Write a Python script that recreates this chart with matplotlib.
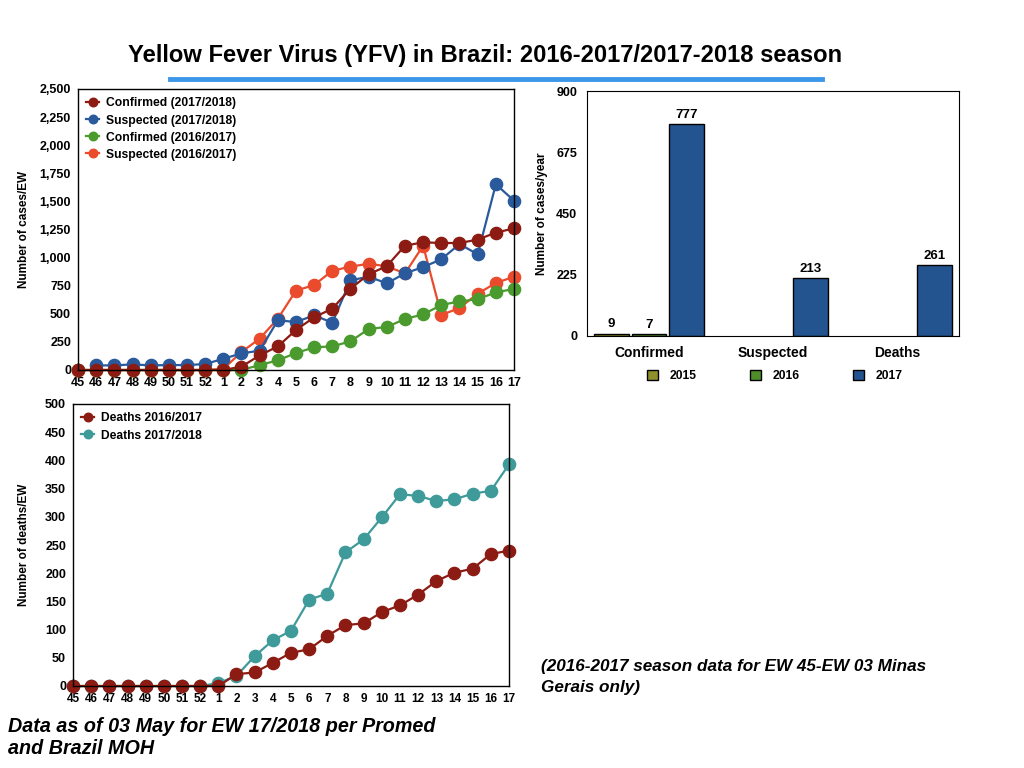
import numpy as np
import matplotlib
matplotlib.use("Agg")
import matplotlib.pyplot as plt
from matplotlib.ticker import FuncFormatter

plt.rcParams['font.family'] = ['Liberation Sans', 'DejaVu Sans']

ew_labels = ['45', '46', '47', '48', '49', '50', '51', '52',
             '1', '2', '3', '4', '5', '6', '7', '8', '9', '10',
             '11', '12', '13', '14', '15', '16', '17']
nan = np.nan

confirmed_1718 = [0, 0, 0, 0, 0, 0, 0, 0, 0, 30, 130, 210, 356, 469, 546,
                  724, 851, 925, 1106, 1136, 1130, 1130, 1160, 1222, 1260]
suspected_1718 = [nan, 41, 41, 50, 41, 44, 44, 53, 100, 148, 172, 442, 427, 486,
                  421, 798, 830, 771, 860, 916, 985, 1121, 1029, 1652, 1507]
confirmed_1617 = [0, 0, 0, 0, 0, 0, 0, 0, 0, 0, 44, 86, 151, 202, 210,
                  255, 365, 383, 454, 495, 578, 611, 629, 691, 721]
suspected_1617 = [0, 0, 0, 0, 0, 0, 0, 0, 10, 160, 279, 457, 706, 756, 884,
                  919, 946, 922, 860, 1106, 489, 552, 679, 774, 830]

deaths_1617 = [0, 0, 0, 0, 0, 0, 0, 0, 0, 21, 24, 41, 59, 65, 89,
               108, 111, 131, 143, 162, 186, 201, 208, 234, 240]
deaths_1718 = [0, 0, 0, 0, 0, 0, 0, 0, 5, 18, 53, 81, 98, 153, 164,
               237, 260, 299, 340, 337, 328, 331, 341, 346, 393]

bar_groups = ['Confirmed', 'Suspected', 'Deaths']
bar_years = ['2015', '2016', '2017']
bar_values = {
    '2015': [9, nan, nan],
    '2016': [7, nan, nan],
    '2017': [777, 213, 261],
}

c_darkred = '#8c1c13'
c_blue = '#2a5a9b'
c_green = '#4a9a2e'
c_orange = '#ea4b2c'
c_teal = '#3f9a9a'
bar_colors = {'2015': '#8f8f2b', '2016': '#4f8d2b', '2017': '#24548f'}

fig = plt.figure(figsize=(10.24, 7.68), dpi=100)

fig.text(0.4735, 0.928, 'Yellow Fever Virus (YFV) in Brazil: 2016-2017/2017-2018 season',
         ha='center', va='center', fontsize=17.1, fontweight='bold')
fig.add_artist(plt.Line2D([170 / 1024, 822 / 1024], [1 - 79 / 768, 1 - 79 / 768],
                          color='#3d97e8', lw=3.5))

x = np.arange(len(ew_labels))
mk = dict(marker='o', markersize=8.8, lw=1.6)
leg_kw = dict(loc='upper left', frameon=False, prop={'weight': 'bold', 'size': 8.7},
              handlelength=1.0, handletextpad=0.6, labelspacing=0.42,
              markerscale=0.7, borderaxespad=0.3)

# cases per EW
ax1 = fig.add_axes([78 / 1024, 1 - 370 / 768, 436 / 1024, 281 / 768])
ax1.plot(x, suspected_1617, color=c_orange, label='Suspected (2016/2017)', **mk)
ax1.plot(x, confirmed_1617, color=c_green, label='Confirmed (2016/2017)', **mk)
ax1.plot(x, suspected_1718, color=c_blue, label='Suspected (2017/2018)', **mk)
ax1.plot(x, confirmed_1718, color=c_darkred, label='Confirmed (2017/2018)', **mk)
ax1.set_xlim(0, len(x) - 1)
ax1.set_ylim(0, 2500)
ax1.set_yticks(np.arange(0, 2501, 250))
ax1.yaxis.set_major_formatter(FuncFormatter(lambda v, p: f'{int(v):,}'))
ax1.set_xticks(x)
ax1.set_xticklabels(ew_labels)
ax1.set_ylabel('Number of cases/EW', fontsize=8.5, fontweight='bold', labelpad=7)
h, l = ax1.get_legend_handles_labels()
order = [3, 2, 1, 0]
ax1.legend([h[i] for i in order], [l[i] for i in order], **leg_kw)

# deaths per EW
ax2 = fig.add_axes([73 / 1024, 1 - 686 / 768, 436 / 1024, 282 / 768])
ax2.plot(x, deaths_1718, color=c_teal, label='Deaths 2017/2018', **mk)
ax2.plot(x, deaths_1617, color=c_darkred, label='Deaths 2016/2017', **mk)
ax2.set_xlim(0, len(x) - 1)
ax2.set_ylim(0, 500)
ax2.set_yticks(np.arange(0, 501, 50))
ax2.set_xticks(x)
ax2.set_xticklabels(ew_labels)
ax2.set_ylabel('Number of deaths/EW', fontsize=8.5, fontweight='bold', labelpad=11)
h, l = ax2.get_legend_handles_labels()
ax2.legend(h[::-1], l[::-1], **leg_kw)

for ax in (ax1, ax2):
    ax.tick_params(length=0, labelsize=9, pad=5)
    for t in ax.get_xticklabels() + ax.get_yticklabels():
        t.set_fontweight('bold')
    for s in ax.spines.values():
        s.set_linewidth(1.0)
    for ln in ax.get_lines():
        ln.set_clip_on(False)
ax2.tick_params(axis='x', labelsize=8.5)

# cases per year
ax3 = fig.add_axes([587 / 1024, 1 - 336 / 768, 372 / 1024, 245 / 768])
gx = np.arange(len(bar_groups))
bw = 0.28
step = 0.305
for i, yr in enumerate(bar_years):
    vals = bar_values[yr]
    bars = ax3.bar(gx + (i - 1) * step, vals, width=bw, color=bar_colors[yr],
                   edgecolor='black', linewidth=1.0, label=yr)
    for b, v in zip(bars, vals):
        if not np.isnan(v):
            ax3.text(b.get_x() + b.get_width() / 2, v + 12, f'{int(v)}',
                     ha='center', va='bottom', fontsize=9.5, fontweight='bold')
ax3.set_xlim(-0.5, 2.5)
ax3.set_ylim(0, 900)
ax3.set_yticks([0, 225, 450, 675, 900])
ax3.set_xticks(gx)
ax3.set_xticklabels(bar_groups)
ax3.tick_params(length=0, labelsize=9, pad=7)
ax3.tick_params(axis='x', labelsize=10, pad=7)
for t in ax3.get_xticklabels() + ax3.get_yticklabels():
    t.set_fontweight('bold')
ax3.set_ylabel('Number of cases/year', fontsize=8.5, fontweight='bold', labelpad=6)
ax3.legend(loc='upper center', bbox_to_anchor=(0.505, -0.095), ncol=3,
           frameon=False, prop={'weight': 'bold', 'size': 8.7},
           handlelength=0.9, handleheight=0.9, columnspacing=4.4,
           handletextpad=1.0)

fig.text(8 / 1024, 1 - 738 / 768, 'Data as of 03 May for EW 17/2018 per Promed\nand Brazil MOH',
         ha='left', va='center', fontsize=14.2, fontweight='bold', style='italic',
         linespacing=1.2)
fig.text(541 / 1024, 1 - 677 / 768, '(2016-2017 season data for EW 45-EW 03 Minas\nGerais only)',
         ha='left', va='center', fontsize=12.3, fontweight='bold', style='italic',
         linespacing=1.45)

fig.savefig('out.png', dpi=100)
